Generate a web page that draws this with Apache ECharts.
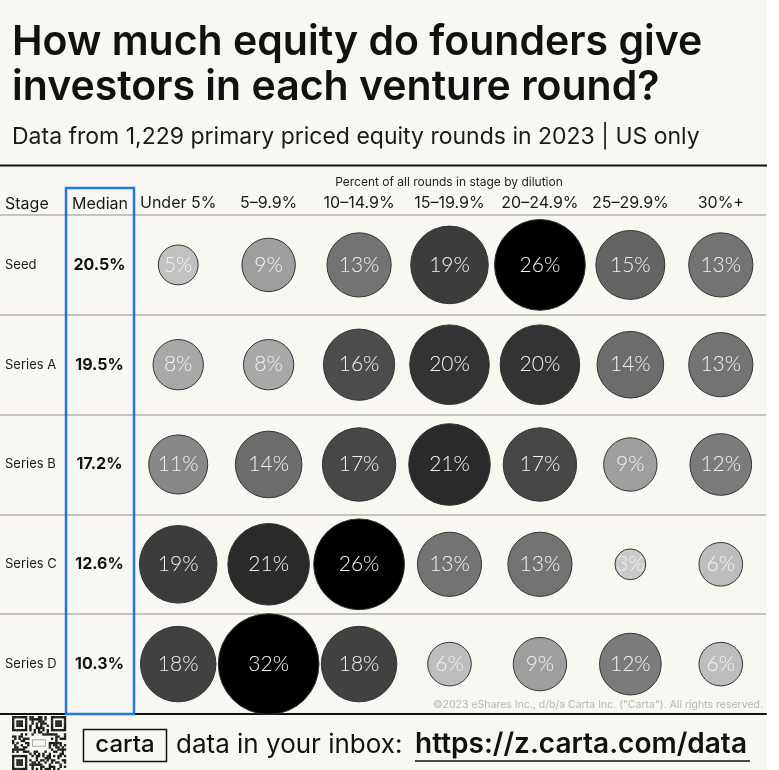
<!DOCTYPE html>
<html>
<head>
<meta charset="utf-8">
<script src="https://cdn.jsdelivr.net/npm/echarts@6/dist/echarts.min.js"></script>
<style>
  html, body { margin: 0; padding: 0; background: #ffffff; }
  #chart { width: 779px; height: 770px; }
</style>
</head>
<body>
<div id="chart"></div>
<script>
// stages (rows) and dilution buckets (columns)
const stages = ['Seed', 'Series A', 'Series B', 'Series C', 'Series D'];
const medians = [20.5, 19.5, 17.2, 12.6, 10.3];
const buckets = ['Under 5%', '5–9.9%', '10–14.9%', '15–19.9%', '20–24.9%', '25–29.9%', '30%+'];

// percent of rounds in stage, per bucket
const seedPct = [5, 9, 13, 19, 26, 15, 13];
const seriesAPct = [8, 8, 16, 20, 20, 14, 13];
const seriesBPct = [11, 14, 17, 21, 17, 9, 12];
const seriesCPct = [19, 21, 26, 13, 13, 3, 6];
const seriesDPct = [18, 32, 18, 6, 9, 12, 6];

const rows = [seedPct, seriesAPct, seriesBPct, seriesCPct, seriesDPct];
const bubbleData = [];
rows.forEach((vals, r) => {
  vals.forEach((v, c) => bubbleData.push([c, r, v]));
});

const BG = '#f9f7f2';
const INK = '#111111';
const FONT = 'Inter, "Noto Sans", sans-serif';

// grey ramp: darker for bigger share
const shadeStops = [[3, 202], [6, 189], [9, 158], [12, 123], [15, 100], [16, 76], [19, 60], [21, 42], [26, 0]];
function shade(v) {
  let l = 0;
  if (v <= shadeStops[0][0]) l = shadeStops[0][1];
  else if (v >= shadeStops[shadeStops.length - 1][0]) l = 0;
  else {
    for (let i = 0; i < shadeStops.length - 1; i++) {
      const a = shadeStops[i], b = shadeStops[i + 1];
      if (v >= a[0] && v <= b[0]) {
        l = a[1] + (b[1] - a[1]) * (v - a[0]) / (b[0] - a[0]);
        break;
      }
    }
  }
  l = Math.round(l);
  return 'rgb(' + l + ',' + l + ',' + l + ')';
}

// decorative qr-ish block for the footer
function qrBlock(x0, y0, size) {
  const n = 25, m = size / n;
  const els = [];
  const finder = (r, c) => {
    for (const [R, C] of [[0, 0], [0, 18], [18, 0]]) {
      if (r >= R && r < R + 7 && c >= C && c < C + 7) {
        const dr = r - R, dc = c - C;
        const ring = Math.min(dr, dc, 6 - dr, 6 - dc);
        return ring === 0 || ring >= 2 ? 1 : 0;
      }
      if (r >= R - 1 && r <= R + 7 && c >= C - 1 && c <= C + 7) return 0;
    }
    return -1;
  };
  for (let r = 0; r < n; r++) {
    for (let c = 0; c < n; c++) {
      let on = finder(r, c);
      if (on === -1) {
        if (r >= 9 && r <= 15 && c >= 8 && c <= 16) on = 0;
        else if (r === 6) on = c % 2 === 0 ? 1 : 0;
        else if (c === 6) on = r % 2 === 0 ? 1 : 0;
        else on = ((r * 31 + c * 17 + (r * c) % 7) % 3 === 0 || (r + 2 * c) % 5 === 1) ? 1 : 0;
      }
      if (on) els.push({ type: 'rect', shape: { x: x0 + c * m, y: y0 + r * m, width: m + 0.2, height: m + 0.2 }, style: { fill: '#1a1a1a' } });
    }
  }
  els.push({ type: 'rect', shape: { x: x0 + 9.5 * m, y: y0 + 11 * m, width: 6 * m, height: 3 * m }, style: { fill: 'none', stroke: '#777', lineWidth: 0.6 } });
  return els;
}

const chart = echarts.init(document.getElementById('chart'), null, { renderer: 'canvas' });

const graphics = [
  { type: 'rect', shape: { x: 0, y: 0, width: 767, height: 770 }, style: { fill: BG }, z: -10, silent: true },
  { type: 'text', left: 12, top: 22, style: { text: 'How much equity do founders give', font: '600 41px ' + FONT, fill: INK } },
  { type: 'text', left: 12, top: 67, style: { text: 'investors in each venture round?', font: '600 41px ' + FONT, fill: INK } },
  { type: 'text', left: 12, top: 126, style: { text: 'Data from 1,229 primary priced equity rounds in 2023 | US only', font: '400 23px ' + FONT, fill: '#1a1a1a' } },
  { type: 'line', shape: { x1: 0, y1: 165.5, x2: 767, y2: 165.5 }, style: { stroke: INK, lineWidth: 2 } },
  { type: 'text', x: 449, y: 182, style: { text: 'Percent of all rounds in stage by dilution', font: '400 12px ' + FONT, fill: '#222', align: 'center', verticalAlign: 'middle' } },
  { type: 'text', x: 5, y: 204, style: { text: 'Stage', font: '400 16px ' + FONT, fill: '#1a1a1a', align: 'left', verticalAlign: 'middle' } },
  { type: 'text', x: 100, y: 204, style: { text: 'Median', font: '400 16px ' + FONT, fill: '#1a1a1a', align: 'center', verticalAlign: 'middle' } },
  { type: 'rect', shape: { x: 66, y: 188, width: 68, height: 526 }, style: { fill: 'none', stroke: '#1f7ae6', lineWidth: 2.5 }, z: 5 },
  { type: 'text', x: 763, y: 705, style: { text: '©2023 eShares Inc., d/b/a Carta Inc. ("Carta"). All rights reserved.', font: '400 10.5px ' + FONT, fill: '#b8b6b2', align: 'right', verticalAlign: 'middle' } },
  { type: 'rect', shape: { x: 83.5, y: 729.5, width: 83, height: 32 }, style: { fill: 'none', stroke: INK, lineWidth: 1.5 } },
  { type: 'text', x: 125, y: 745, style: { text: 'carta', font: '500 24px ' + FONT, fill: INK, align: 'center', verticalAlign: 'middle' } },
  { type: 'text', x: 176, y: 745, style: { text: 'data in your inbox:', font: '400 26px ' + FONT, fill: INK, align: 'left', verticalAlign: 'middle' } },
  { type: 'text', x: 415, y: 745, style: { text: 'https://z.carta.com/data', font: '600 28px ' + FONT, fill: INK, align: 'left', verticalAlign: 'middle' } },
  { type: 'line', shape: { x1: 415, y1: 761, x2: 750, y2: 761 }, style: { stroke: INK, lineWidth: 1.5 } }
].concat(qrBlock(12, 716, 54));

const option = {
  backgroundColor: '#ffffff',
  animation: false,
  grid: [
    { left: 0, right: 13, top: 215, bottom: 56 },
    { left: 133, right: 13, top: 215, bottom: 56 }
  ],
  xAxis: [
    {
      gridIndex: 0, type: 'value', show: true, position: 'bottom',
      axisLine: { show: true, lineStyle: { color: INK, width: 2 } },
      axisTick: { show: false }, axisLabel: { show: false }, splitLine: { show: false }
    },
    {
      gridIndex: 1, type: 'category', data: buckets, position: 'top',
      axisLine: { show: false }, axisTick: { show: false }, splitLine: { show: false },
      axisLabel: { margin: 4, fontSize: 16, color: '#1a1a1a', fontFamily: FONT, interval: 0 }
    }
  ],
  yAxis: [
    {
      gridIndex: 0, type: 'category', data: stages, inverse: true,
      axisLine: { show: false }, axisTick: { show: false }, axisLabel: { show: false },
      splitLine: { show: true, lineStyle: { color: '#b5b1ab', width: 1.5 } }
    },
    {
      gridIndex: 1, type: 'category', data: stages, inverse: true,
      axisLine: { show: false }, axisTick: { show: false }, splitLine: { show: false },
      axisLabel: {
        margin: 0,
        formatter: (val, i) => '{s|' + val + '}{m|' + medians[i].toFixed(1) + '%}',
        rich: {
          s: { width: 61, align: 'left', fontSize: 13, color: '#1a1a1a', fontFamily: FONT },
          m: { width: 67, align: 'center', fontSize: 16, fontWeight: 700, color: INK, fontFamily: FONT }
        }
      }
    }
  ],
  series: [
    {
      type: 'scatter',
      xAxisIndex: 1, yAxisIndex: 1,
      data: bubbleData,
      symbolSize: d => 17.8 * Math.sqrt(d[2]),
      itemStyle: {
        color: p => shade(p.value[2]),
        borderColor: '#333333', borderWidth: 1, opacity: 1
      },
      label: {
        show: true, position: 'inside',
        formatter: p => p.value[2] + '%',
        color: '#f2f2f2', fontSize: 21, fontFamily: 'Lato, "Open Sans", sans-serif', fontWeight: 300
      },
      emphasis: { disabled: true },
      z: 3
    }
  ],
  graphic: graphics
};

chart.setOption(option);
</script>
</body>
</html>
